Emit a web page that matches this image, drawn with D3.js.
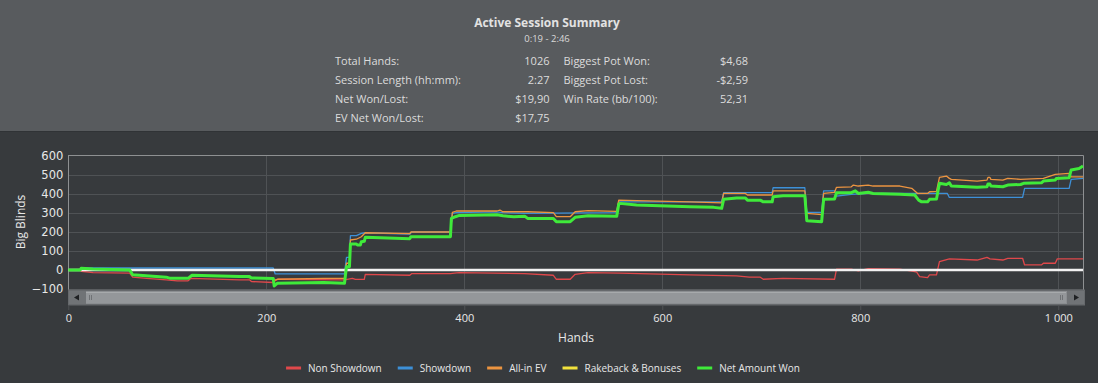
<!DOCTYPE html>
<html>
<head>
<meta charset="utf-8">
<script src="https://cdn.jsdelivr.net/npm/d3@7"></script>
<style>
  html, body { margin: 0; padding: 0; background: #373a3d; }
  svg { display: block; }
</style>
</head>
<body>
<div id="chart"></div>
<script>
// summary panel texts
const title = "Active Session Summary"
const subTitle = "0:19 - 2:46"
const leftLabels = ["Total Hands:", "Session Length (hh:mm):", "Net Won/Lost:", "EV Net Won/Lost:"]
const leftValues = ["1026", "2:27", "$19,90", "$17,75"]
const rightLabels = ["Biggest Pot Won:", "Biggest Pot Lost:", "Win Rate (bb/100):"]
const rightValues = ["$4,68", "-$2,59", "52,31"]

// axis ticks
const xTicks = [0, 200, 400, 600, 800, 1000]
const yTicks = [-100, 0, 100, 200, 300, 400, 500, 600]

// series: [hand, big blinds]
const nonShowdown = [[0,0],[12,0],[13,-7],[25,-14],[62,-17],[65,-38],[79,-44],[99,-52],[110,-57],[121,-57],[124,-44],[173,-52],[183,-52],[185,-61],[207,-66],[209,-56],[212,-49],[279,-52],[287,-44],[290,-50],[299,-50],[300,-23],[345,-28],[347,-19],[386,-19],[390,-17],[395,-14],[461,-19],[490,-28],[493,-49],[507,-49],[512,-23],[525,-14],[557,-17],[628,-26],[675,-31],[688,-38],[699,-38],[702,-49],[722,-44],[774,-49],[776,4],[791,4],[798,-5],[808,7],[840,4],[855,-9],[857,-12],[860,-35],[868,-40],[870,-26],[877,-26],[880,44],[890,58],[918,52],[928,66],[931,58],[944,52],[949,61],[964,61],[966,26],[983,26],[985,35],[997,35],[999,58],[1025,58]]
const showdown = [[0,0],[12,0],[13,10],[207,10],[209,-21],[279,-21],[281,66],[284,66],[285,180],[291,180],[296,192],[300,195],[345,188],[347,199],[386,199],[388,297],[392,300],[433,304],[439,300],[461,297],[554,300],[556,357],[660,357],[662,405],[711,405],[712,431],[744,431],[746,302],[761,302],[763,415],[774,415],[776,387],[791,396],[808,401],[888,401],[890,380],[964,380],[966,428],[1011,428],[1013,475],[1025,480]]
const allInEV = [[0,0],[12,0],[13,9],[25,5],[62,0],[65,-25],[99,-38],[103,-44],[121,-44],[125,-28],[173,-35],[185,-42],[207,-45],[208,-55],[211,-49],[258,-44],[279,-44],[281,35],[284,35],[285,157],[291,161],[296,174],[300,195],[345,190],[346,199],[386,199],[388,302],[392,309],[433,309],[436,314],[439,305],[464,305],[490,300],[493,279],[507,279],[512,305],[525,311],[554,307],[556,366],[574,363],[628,357],[660,352],[662,401],[684,401],[686,393],[711,393],[712,415],[744,415],[746,297],[761,290],[763,401],[774,407],[776,433],[791,436],[793,445],[798,440],[808,445],[813,440],[840,440],[852,428],[858,401],[868,401],[870,410],[877,412],[880,485],[887,492],[890,480],[892,475],[918,466],[928,471],[929,485],[931,485],[932,475],[944,471],[949,480],[962,475],[985,480],[997,501],[1011,506],[1013,488],[1025,488]]
const rakeback = [[0,0],[1025,0]]
const netWon = [[0,0],[12,0],[13,9],[25,5],[62,0],[65,-25],[99,-38],[103,-44],[121,-44],[125,-28],[173,-35],[183,-35],[185,-42],[207,-45],[208,-84],[211,-70],[258,-66],[279,-70],[281,17],[284,17],[285,136],[291,136],[292,131],[295,131],[296,148],[299,150],[300,171],[345,164],[346,174],[386,174],[387,270],[391,279],[395,286],[433,289],[439,284],[450,279],[461,282],[464,270],[490,270],[493,253],[507,253],[512,276],[525,284],[554,282],[556,344],[557,349],[574,340],[628,331],[652,328],[660,323],[662,370],[675,377],[684,377],[686,366],[699,366],[702,357],[711,357],[712,384],[722,389],[744,389],[746,258],[761,253],[763,370],[774,372],[776,405],[791,405],[795,415],[798,401],[808,407],[813,401],[840,397],[855,393],[859,366],[862,357],[868,357],[870,370],[877,372],[880,454],[887,448],[890,457],[892,440],[918,433],[928,436],[929,450],[931,450],[932,440],[944,436],[949,445],[962,448],[965,454],[983,457],[985,466],[997,471],[998,480],[1011,483],[1013,524],[1021,532],[1025,545]]

const seriesNames = ["Non Showdown", "Showdown", "All-in EV", "Rakeback & Bonuses", "Net Amount Won"]
const seriesData = [nonShowdown, showdown, allInEV, rakeback, netWon]
const seriesColors = ["#e0484b", "#3d90d8", "#ec9440", "#f2e23c", "#3fea3a"]

function main(){
    const width = 1098, height = 383
    const margin = {top: 155.5, left: 68.3, right: 1083, bottom: 289}
    const font = "'Open Sans', sans-serif"

    const svg = d3.select("#chart").append("svg")
        .attr("width", width).attr("height", height)

    svg.append("rect").attr("width", width).attr("height", height).attr("fill", "#373a3d")

    //summary panel
    svg.append("rect").attr("width", width).attr("height", 131).attr("fill", "#585b5e")
    svg.append("line").attr("x1", 0).attr("x2", width).attr("y1", 131.5).attr("y2", 131.5)
        .attr("stroke", "#303336")

    svg.append("text").attr("x", 547).attr("y", 27)
        .attr("text-anchor", "middle").attr("font-family", font).attr("font-weight", "bold")
        .attr("font-size", 12).attr("fill", "#e2e2e2").text(title)
    svg.append("text").attr("x", 547).attr("y", 41.5)
        .attr("text-anchor", "middle").attr("font-family", font)
        .attr("font-size", 9.5).attr("fill", "#d8d8d8").text(subTitle)

    const rowY = [64.5, 83.5, 102.5, 121.5]
    const panelText = svg.append("g").attr("font-family", font).attr("font-size", 11).attr("fill", "#dcdcdc")
    leftLabels.forEach((t, i) => panelText.append("text").attr("x", 335).attr("y", rowY[i]).text(t))
    leftValues.forEach((t, i) => panelText.append("text").attr("x", 549.5).attr("y", rowY[i])
        .attr("text-anchor", "end").text(t))
    rightLabels.forEach((t, i) => panelText.append("text").attr("x", 563.5).attr("y", rowY[i]).text(t))
    rightValues.forEach((t, i) => panelText.append("text").attr("x", 748).attr("y", rowY[i])
        .attr("text-anchor", "end").text(t))

    //scales
    const x = d3.scaleLinear().domain([0, 1025]).range([margin.left, margin.right])
    const y = d3.scaleLinear().domain([-100, 600]).range([margin.bottom, margin.top])

    //grid
    const grid = svg.append("g").attr("stroke", "#4f5255").attr("stroke-width", 1)
    grid.selectAll(".hg").data(yTicks.filter(d => d !== 0 && d !== 600)).join("line")
        .attr("x1", margin.left).attr("x2", margin.right)
        .attr("y1", d => Math.round(y(d)) + 0.5).attr("y2", d => Math.round(y(d)) + 0.5)
    grid.selectAll(".vg").data(xTicks.filter(d => d > 0)).join("line")
        .attr("x1", d => Math.round(x(d)) + 0.5).attr("x2", d => Math.round(x(d)) + 0.5)
        .attr("y1", margin.top).attr("y2", margin.bottom)

    //frame
    const frame = svg.append("g").attr("stroke", "#8e9092").attr("stroke-width", 1)
    frame.append("line").attr("x1", 68).attr("x2", 1083.5).attr("y1", 155.5).attr("y2", 155.5)
    frame.append("line").attr("x1", 68.5).attr("x2", 68.5).attr("y1", 155.5).attr("y2", 290)
    frame.append("line").attr("x1", 1083.5).attr("x2", 1083.5).attr("y1", 155.5).attr("y2", 290)

    //y axis
    const yAxis = svg.append("g")
        .attr("transform", `translate(${margin.left},0)`)
        .call(d3.axisLeft(y).tickValues(yTicks).tickSize(0).tickPadding(5))
    yAxis.select(".domain").remove()
    yAxis.selectAll("text").attr("font-family", "'DejaVu Sans', sans-serif").attr("font-size", 11.5)
        .attr("fill", "#e8e8e8")

    svg.append("text").attr("transform", "translate(25,222) rotate(-90)")
        .attr("text-anchor", "middle").attr("font-family", font).attr("font-size", 12)
        .attr("fill", "#e8e8e8").text("Big Blinds")

    //lines
    const line = d3.line().x(d => x(d[0])).y(d => y(d[1]))
    const lines = svg.append("g").attr("fill", "none").attr("stroke-linejoin", "round")
    ;[3, 0, 1, 2].forEach(i => {
        lines.append("path").datum(seriesData[i]).attr("d", line)
            .attr("stroke", seriesColors[i]).attr("stroke-width", 1.3)
    })
    //zero line
    lines.append("line").attr("x1", margin.left).attr("x2", margin.right)
        .attr("y1", y(0)).attr("y2", y(0)).attr("stroke", "#f2f2f2").attr("stroke-width", 2.5)
    lines.append("path").datum(netWon).attr("d", line)
        .attr("stroke", seriesColors[4]).attr("stroke-width", 3)

    //scrollbar
    const sb = svg.append("g")
    sb.append("rect").attr("x", 68).attr("y", 289.5).attr("width", 1017).attr("height", 16).attr("fill", "#66696c")
    sb.append("rect").attr("x", 69).attr("y", 291).attr("width", 1015).attr("height", 13).attr("fill", "#8b8e91")
    sb.append("rect").attr("x", 86).attr("y", 292).attr("width", 980).attr("height", 11).attr("fill", "#94979a")
    sb.append("rect").attr("x", 86).attr("y", 292).attr("width", 980).attr("height", 1).attr("fill", "#a7aaac")
    sb.append("rect").attr("x", 69).attr("y", 291).attr("width", 17).attr("height", 13).attr("fill", "#707376")
    sb.append("rect").attr("x", 1067).attr("y", 291).attr("width", 17).attr("height", 13).attr("fill", "#707376")
    sb.append("path").attr("d", "M74,297.5 L79,294.5 L79,300.5 Z").attr("fill", "#1f2123")
    sb.append("path").attr("d", "M1079,297.5 L1074,294.5 L1074,300.5 Z").attr("fill", "#1f2123")
    ;[89, 91, 1060, 1062].forEach(gx => sb.append("rect").attr("x", gx).attr("y", 295)
        .attr("width", 1).attr("height", 5).attr("fill", "#6f7275"))

    //x axis
    const xAxis = svg.append("g")
        .attr("transform", "translate(0,305)")
        .call(d3.axisBottom(x).tickValues(xTicks).tickSize(5).tickPadding(4)
            .tickFormat(d => d3.format(",")(d).replace(",", " ")))
    xAxis.select(".domain").remove()
    xAxis.selectAll("line").attr("stroke", "#4f5255")
    xAxis.selectAll("text").attr("font-family", font).attr("font-size", 11).attr("fill", "#e8e8e8")

    svg.append("text").attr("x", 576).attr("y", 341.5).attr("text-anchor", "middle")
        .attr("font-family", font).attr("font-size", 12).attr("fill", "#e8e8e8").text("Hands")

    //legend
    const legend = svg.append("g").attr("font-family", font).attr("font-size", 10).attr("fill", "#e8e8e8")
    let lx = 0
    const items = []
    seriesNames.forEach((name, i) => {
        const g = legend.append("g")
        g.append("rect").attr("x", 0).attr("y", -1.5).attr("width", 15).attr("height", 3).attr("fill", seriesColors[i])
        const t = g.append("text").attr("x", 22).attr("y", 3.5).text(name)
        const w = 22 + t.node().getComputedTextLength()
        items.push({g, lx})
        lx += w + 16
    })
    const total = lx - 16
    const start = 543 - total / 2
    items.forEach(it => it.g.attr("transform", `translate(${start + it.lx},368)`))
}

main()
</script>
</body>
</html>
